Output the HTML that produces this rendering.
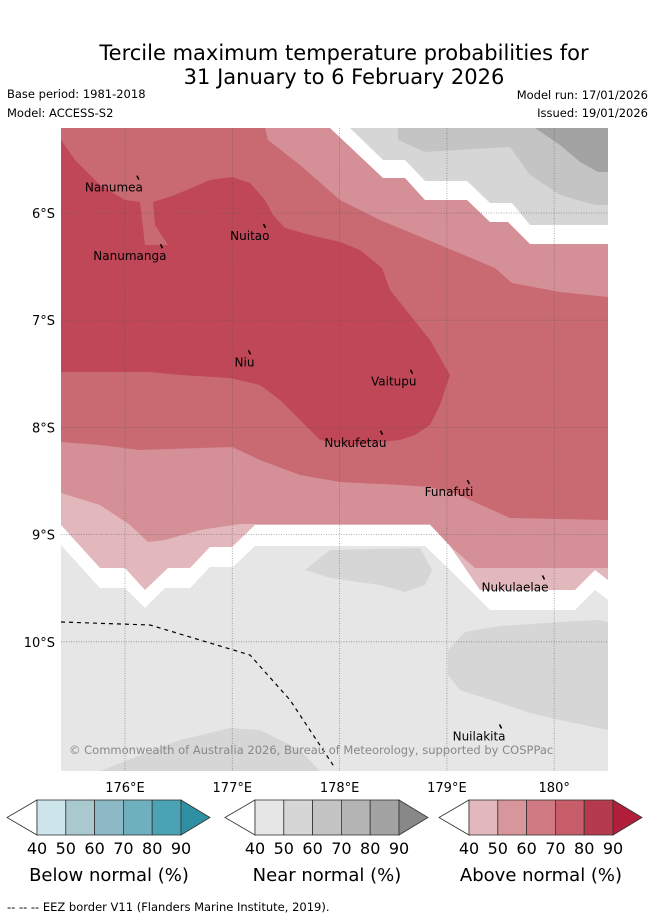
<!DOCTYPE html>
<html><head><meta charset="utf-8"><style>
body{margin:0;background:#fff;font-family:"Liberation Sans","DejaVu Sans",sans-serif}
svg text{font-family:"DejaVu Sans","Liberation Sans",sans-serif}
</style></head><body>
<svg width="655" height="919" viewBox="0 0 655 919" xmlns="http://www.w3.org/2000/svg">
<text x="344" y="60" font-size="21" text-anchor="middle">Tercile maximum temperature probabilities for</text>
<text x="344" y="84" font-size="21" text-anchor="middle">31 January to 6 February 2026</text>
<text x="7" y="98" font-size="11.5">Base period: 1981-2018</text>
<text x="7" y="117" font-size="11.5">Model: ACCESS-S2</text>
<text x="648" y="99" font-size="11.5" text-anchor="end">Model run: 17/01/2026</text>
<text x="648" y="117" font-size="11.5" text-anchor="end">Issued: 19/01/2026</text>
<defs><clipPath id="mc"><rect x="61" y="128" width="547" height="643"/></clipPath></defs>
<g clip-path="url(#mc)">
<rect x="61" y="128" width="547" height="643" fill="#e6e6e6"/>
<polygon fill="#c96a73" points="61,128 340,128 383,178 405,178 425,200 467,200 490,222 508,222 530,244 608,244 608,524 61,524"/>
<polygon fill="#d58f96" points="265,128 340,128 383,178 405,178 425,200 467,200 490,222 508,222 530,244 608,244 608,297 560,292 512,283 495,268 440,245 380,220 340,200 300,165 268,140"/>
<polygon fill="#d58f96" points="61,442 100,445 140,450 200,448 232,447 260,460 300,475 340,482 400,485 430,487 460,495 470,500 510,518 608,520 608,600 61,600"/>
<polygon fill="#e2b8bd" points="61,493 100,505 130,525 148,542 165,540 200,530 240,524 430,524 450,546 475,568 608,568 608,620 61,620"/>
<polygon fill="#fff" points="61,525 100,568 125,568 145,590 168,568 190,568 210,547 232,547 255,525 430,525 450,546 480,590 575,590 595,570 608,580 608,771 61,771"/>
<polygon fill="#e6e6e6" points="61,545 100,588 125,588 145,608 165,588 190,588 210,567 233,567 255,546 425,546 448,568 470,590 490,610 575,610 595,590 608,600 608,771 61,771"/>
<polygon fill="#d6d6d6" points="305,570 330,550 420,548 432,570 425,585 405,592 380,585 330,578"/>
<polygon fill="#d6d6d6" points="448,650 465,632 500,626 560,622 598,620 608,622 608,730 560,720 530,713 500,703 460,690 448,675"/>
<polygon fill="#d6d6d6" points="100,771 180,740 230,728 260,730 300,750 320,771"/>
<polygon fill="#c04757" points="61,140 75,160 100,185 125,200 140,202 145,245 168,245 155,225 153,202 175,195 210,180 232,177 250,183 265,200 273,215 285,228 310,235 340,242 360,250 382,268 390,290 410,315 430,340 450,375 440,405 430,425 415,435 400,440 380,442 350,445 320,440 300,420 280,400 260,385 230,378 180,375 150,372 61,372"/>
<polygon fill="#fff" points="330,128 383,178 405,178 425,200 467,200 490,222 508,222 530,244 608,244 608,128"/>
<polygon fill="#d6d6d6" points="350,128 383,160 405,160 425,181 467,181 490,203 512,203 530,225 608,225 608,128"/>
<polygon fill="#c4c4c4" points="398,128 398,140 425,152 490,148 510,147 530,175 560,195 595,205 608,205 608,128"/>
<polygon fill="#a3a3a3" points="535,128 560,145 580,162 598,172 608,172 608,128"/>
<g id="grid" stroke="#555" stroke-opacity="0.6" stroke-width="0.8" stroke-dasharray="1,1.5"></g>
<polyline fill="none" stroke="#000" stroke-width="1.2" stroke-dasharray="4,4" points="61,622 150,625 200,640 250,655 290,700 335,768"/>
<g id="islands" font-size="12"></g>
<text x="69" y="754" font-size="11.5" fill="#888">© Commonwealth of Australia 2026, Bureau of Meteorology, supported by COSPPac</text>
</g>
<g id="axes" font-size="13"></g>
<g id="bars"></g>
<text x="7" y="911" font-size="11.5">-- -- -- EEZ border V11 (Flanders Marine Institute, 2019).</text>
</svg>
<script>
const lonTicks=[176,177,178,179,180];
const lonLabels=["176°E","177°E","178°E","179°E","180°"];
const latTicks=[6,7,8,9,10];
const latLabels=["6°S","7°S","8°S","9°S","10°S"];
const islandNames=["Nanumea","Nanumanga","Nuitao","Niu","Vaitupu","Nukufetau","Funafuti","Nukulaelae","Nuilakita"];
const islandLon=[176.12,176.34,177.30,177.16,178.67,178.39,179.20,179.90,179.50];
const islandLat=[-5.67,-6.31,-6.12,-7.30,-7.48,-8.05,-8.51,-9.40,-10.79];
const ticks=["40","50","60","70","80","90"];
const barNames=["Below normal (%)","Near normal (%)","Above normal (%)"];
const barColors=[["#cde4ea","#a9c9ce","#8db8c5","#6fb0bf","#4aa3b4","#2f8fa3"],["#e6e6e6","#d6d6d6","#c4c4c4","#b4b4b4","#a3a3a3","#888888"],["#e2b8bd","#d8969c","#cf7a82","#c75d69","#b63a4d","#b01e3a"]];
const ns="http://www.w3.org/2000/svg";
const X=lon=>125+(lon-176)*107.3;
const Y=lat=>213+(-lat-6)*107.2;
function mk(t,a,p){const e=document.createElementNS(ns,t);for(const k in a)e.setAttribute(k,a[k]);p.appendChild(e);return e;}
const grid=document.getElementById('grid'),axes=document.getElementById('axes');
lonTicks.forEach((v,i)=>{
 const l=mk('line',{x1:X(v),x2:X(v),y1:128,y2:771},grid);
 
 
 const t=mk('text',{x:X(v),y:792,'text-anchor':'middle'},axes);t.textContent=lonLabels[i];
 
 
});
latTicks.forEach((v,i)=>{
 const l=mk('line',{x1:61,x2:608,y1:Y(-v),y2:Y(-v)},grid);
 
 
 const t=mk('text',{x:55,y:Y(-v)+5,'text-anchor':'end'},axes);t.textContent=latLabels[i];
 
 
});
const isl=document.getElementById('islands');
islandNames.forEach((n,i)=>{
 const x=X(islandLon[i]),y=Y(islandLat[i]);
 const m=mk('line',{x1:x-1,y1:y-2,x2:x+1,y2:y+2,stroke:'#000','stroke-width':1.5},isl);
 
 
 const t=mk('text',{x:x+5,y:y+14,'text-anchor':'end'},isl);t.textContent=n;
 
 
});
const bars=document.getElementById('bars');
[7,225,439].forEach((x0,b)=>{
 const g=mk('g',{},bars);
 
 
 const top=800,h=35,w=28.8,bx=x0+30;
 mk('polygon',{points:`${x0},${top+h/2} ${bx},${top} ${bx},${top+h}`,fill:'#fff',stroke:'#333','stroke-width':0.8},g);
 for(let i=0;i<5;i++)mk('rect',{x:bx+i*w,y:top,width:w,height:h,fill:barColors[b][i],stroke:'#333','stroke-width':0.8},g);
 const ex=bx+5*w;
 mk('polygon',{points:`${ex},${top} ${ex+29},${top+h/2} ${ex},${top+h}`,fill:barColors[b][5],stroke:'#333','stroke-width':0.8},g);
 ticks.forEach((tk,i)=>{const t=mk('text',{x:bx+i*w,y:854,'font-size':16,'text-anchor':'middle'},g);t.textContent=tk;
  
  });
 const t=mk('text',{x:x0+102,y:881,'font-size':18,'text-anchor':'middle'},g);t.textContent=barNames[b];
 
 
});
</script>
</body></html>
